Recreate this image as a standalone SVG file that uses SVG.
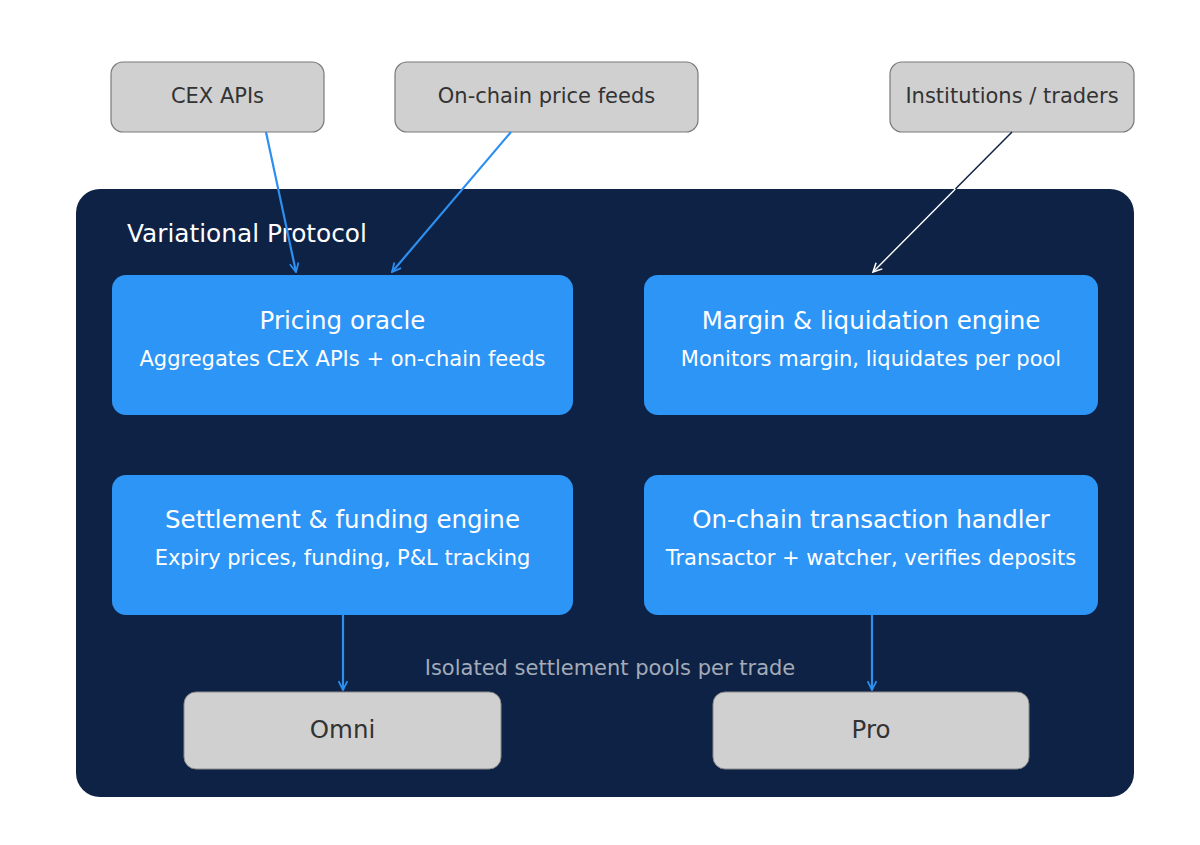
<svg xmlns="http://www.w3.org/2000/svg" width="1200" height="845" viewBox="0 0 1200 845">
<defs>
<marker id="ah" viewBox="0 0 10 10" refX="9" refY="5" markerWidth="11" markerHeight="11" markerUnits="userSpaceOnUse" orient="auto">
<path d="M1,1 L9,5 L1,9" fill="none" stroke="#2d8ff0" stroke-width="1.6"/>
</marker>
<marker id="ahw" viewBox="0 0 10 10" refX="9" refY="5" markerWidth="11" markerHeight="11" markerUnits="userSpaceOnUse" orient="auto">
<path d="M1,1 L9,5 L1,9" fill="none" stroke="#ffffff" stroke-width="1.4"/>
</marker>
</defs>
<style>
text{font-family:"DejaVu Sans",Verdana,sans-serif;text-anchor:middle;dominant-baseline:central}
.ext rect{fill:#d0d0d0;stroke:#7a7a7a;stroke-width:1.2}
.ext text{fill:#333333;font-size:21px}
.blue rect{fill:#2d95f6}
.blue .t{fill:#ffffff;font-size:24.5px}
.blue .s{fill:#ffffff;font-size:21px}
.pool rect{fill:#d0d0d0;stroke:#8a8a8a;stroke-width:1}
.pool text{fill:#333333;font-size:24.5px}
.c{fill:none;stroke:#2d8ff0;stroke-width:2.2}
</style>
<rect width="1200" height="845" fill="#ffffff"/>
<g id="container">
<rect x="76" y="189" width="1058" height="608" rx="24" fill="#0e2245"/>
<text x="127" y="233" style="text-anchor:start;font-size:24.8px;fill:#ffffff">Variational Protocol</text>
<text x="610" y="668" style="font-size:21px;fill:#a3abb8">Isolated settlement pools per trade</text>
</g>
<g id="cex" class="ext"><rect x="111" y="62" width="213" height="70" rx="12"/><text x="217.5" y="96">CEX APIs</text></g>
<g id="onchain" class="ext"><rect x="395" y="62" width="303" height="70" rx="12"/><text x="546.5" y="96">On-chain price feeds</text></g>
<g id="inst" class="ext"><rect x="890" y="62" width="244" height="70" rx="12"/><text x="1012" y="96">Institutions / traders</text></g>
<g id="pricing" class="blue"><rect x="112" y="275" width="461" height="140" rx="14"/><text class="t" x="342.5" y="320">Pricing oracle</text><text class="s" x="342.5" y="359">Aggregates CEX APIs + on-chain feeds</text></g>
<g id="margin" class="blue"><rect x="644" y="275" width="454" height="140" rx="14"/><text class="t" x="871" y="320">Margin &amp; liquidation engine</text><text class="s" x="871" y="359">Monitors margin, liquidates per pool</text></g>
<g id="settlement" class="blue"><rect x="112" y="475" width="461" height="140" rx="14"/><text class="t" x="342.5" y="519">Settlement &amp; funding engine</text><text class="s" x="342.5" y="558">Expiry prices, funding, P&amp;L tracking</text></g>
<g id="txhandler" class="blue"><rect x="644" y="475" width="454" height="140" rx="14"/><text class="t" x="871" y="519">On-chain transaction handler</text><text class="s" x="871" y="558">Transactor + watcher, verifies deposits</text></g>
<g id="omni" class="pool"><rect x="184" y="692" width="317" height="77" rx="12"/><text x="342.5" y="729">Omni</text></g>
<g id="pro" class="pool"><rect x="713" y="692" width="316" height="77" rx="12"/><text x="871" y="729">Pro</text></g>
<g id="connectors">
<line class="c" x1="266" y1="132" x2="296" y2="272" marker-end="url(#ah)"/>
<line class="c" x1="511" y1="132" x2="392" y2="272" marker-end="url(#ah)"/>
<line x1="1012" y1="132" x2="955.4" y2="189" stroke="#0e2245" stroke-width="1.5"/>
<line x1="955.4" y1="189" x2="873" y2="272" stroke="#ffffff" stroke-width="1.4" marker-end="url(#ahw)"/>
<line class="c" x1="343" y1="615" x2="343" y2="690" marker-end="url(#ah)"/>
<line class="c" x1="872" y1="615" x2="872" y2="690" marker-end="url(#ah)"/>
</g>
</svg>
